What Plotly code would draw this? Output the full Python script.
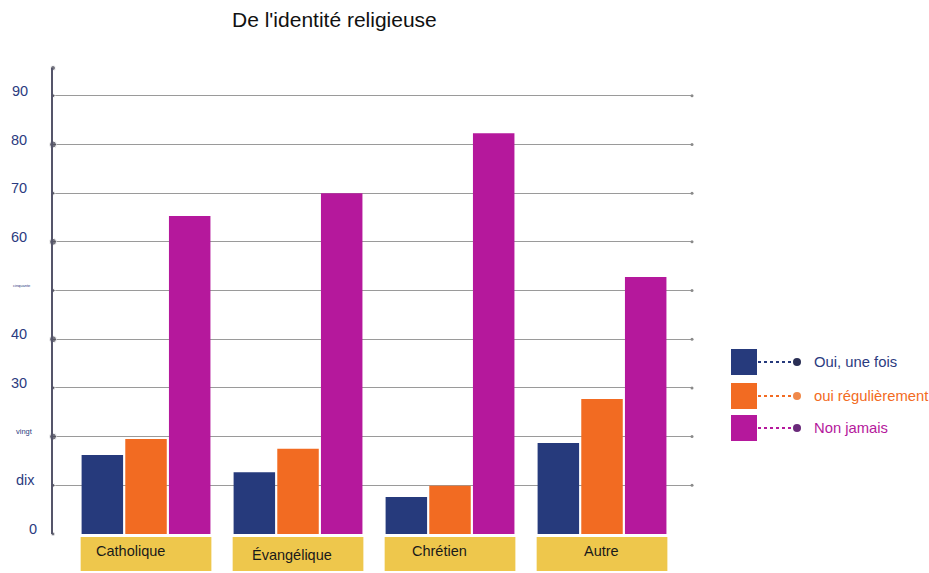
import plotly.graph_objects as go

# ---- data ----
categories = ["Catholique", "Évangélique", "Chrétien", "Autre"]
series_names = ["Oui, une fois", "oui régulièrement", "Non jamais"]
oui_une_fois = [16.2, 12.7, 7.6, 18.7]
oui_regulierement = [19.5, 17.5, 9.9, 27.7]
non_jamais = [65.3, 70.0, 82.3, 52.8]
tick_values = [0, 10, 20, 30, 40, 50, 60, 70, 80, 90]
tick_labels = ["0", "dix", "vingt", "30", "40", "cinquante", "60", "70", "80", "90"]

# ---- styling ----
W, H = 929, 573
L_PX, R_PX, T_PX, B_PX = 53, 692, 68, 534
colors = ["#263a7c", "#f26b22", "#b5189c"]
dot_colors = ["#2a2f55", "#f0894a", "#6a2a7a"]
text_colors = ["#2b3b80", "#f26b22", "#b5189c"]
box_color = "#eec74c"
font_family = "Liberation Sans, Arial, sans-serif"

X_MIN, X_MAX = -0.612, 3.592
Y_MAX = 95.7


def px_x(px):
    return (px - L_PX) / (R_PX - L_PX)


def px_y(py):
    return (B_PX - py) / (B_PX - T_PX)


fig = go.Figure()
xs = list(range(len(categories)))
for name, vals, col in zip(series_names, [oui_une_fois, oui_regulierement, non_jamais], colors):
    fig.add_trace(go.Bar(x=xs, y=vals, name=name, marker=dict(color=col, line=dict(width=0)),
                         showlegend=False, hoverinfo="y"))

# dots along the vertical axis
big = {20, 40, 60, 80}
fig.add_trace(go.Scatter(
    x=[X_MIN] * (len(tick_values) + 1),
    y=tick_values + [Y_MAX],
    mode="markers", cliponaxis=False, showlegend=False, hoverinfo="skip",
    marker=dict(color="#3a3a48", size=[7 if v in big else 4 for v in tick_values] + [5]),
))
# small dotted endings on the right of each gridline
fig.add_trace(go.Scatter(
    x=[X_MAX] * (len(tick_values) - 1), y=tick_values[1:],
    mode="markers", cliponaxis=False, showlegend=False, hoverinfo="skip",
    marker=dict(color="#8a8a8a", size=3),
))

shapes = []
annotations = []

# category label boxes
label_offsets = [-16, -6, -11, -1]
label_y = [551, 555, 551, 551]
for i, cat in enumerate(categories):
    shapes.append(dict(type="rect", xref="x", yref="paper",
                       x0=i - 0.43, x1=i + 0.43, y0=px_y(537), y1=px_y(571),
                       fillcolor=box_color, line=dict(width=0), layer="below"))
    annotations.append(dict(text=cat, xref="x", yref="paper",
                            x=i + label_offsets[i] / 152.0, y=px_y(label_y[i]),
                            showarrow=False, xanchor="center", yanchor="middle",
                            font=dict(size=14.5, color="#1a1a1a", family=font_family)))

# y tick labels
tick_px_x = [33, 25, 24, 19, 19, 22, 19, 19, 19, 20]
for v, lab, tx in zip(tick_values, tick_labels, tick_px_x):
    size = 14.5
    if lab == "cinquante":
        size = 4
    elif lab == "vingt":
        size = 7.5
    annotations.append(dict(text=lab, xref="paper", yref="y", x=px_x(tx), y=v + 1.0,
                            showarrow=False, xanchor="center", yanchor="middle",
                            font=dict(size=size, color="#2b3b80", family=font_family)))

# legend
leg_y = [362, 396, 428]
for name, col, dcol, tcol, cy in zip(series_names, colors, dot_colors, text_colors, leg_y):
    shapes.append(dict(type="rect", xref="paper", yref="paper",
                       x0=px_x(731), x1=px_x(757), y0=px_y(cy + 13), y1=px_y(cy - 13),
                       fillcolor=col, line=dict(width=0)))
    shapes.append(dict(type="line", xref="paper", yref="paper",
                       x0=px_x(758), x1=px_x(794), y0=px_y(cy), y1=px_y(cy),
                       line=dict(color=col, width=2, dash="dot")))
    shapes.append(dict(type="circle", xref="paper", yref="paper",
                       x0=px_x(793), x1=px_x(801), y0=px_y(cy + 4), y1=px_y(cy - 4),
                       fillcolor=dcol, line=dict(width=0)))
    annotations.append(dict(text=name, xref="paper", yref="paper", x=px_x(812), y=px_y(cy),
                            showarrow=False, xanchor="left", yanchor="middle",
                            font=dict(size=14.8, color=tcol, family=font_family)))

# title
annotations.append(dict(text="De l'identité religieuse", xref="paper", yref="paper",
                        x=px_x(334), y=px_y(20), showarrow=False,
                        xanchor="center", yanchor="middle",
                        font=dict(size=21, color="#111111", family=font_family)))

fig.update_layout(
    width=W, height=H,
    margin=dict(l=L_PX, r=W - R_PX, t=T_PX, b=H - B_PX),
    paper_bgcolor="white", plot_bgcolor="white",
    barmode="group", bargap=0.138, bargroupgap=0.05,
    showlegend=False,
    xaxis=dict(range=[X_MIN, X_MAX], showgrid=False, zeroline=False, showticklabels=False,
               showline=False, fixedrange=True),
    yaxis=dict(range=[0, Y_MAX], tickvals=tick_values, showticklabels=False,
               showgrid=True, gridcolor="#9a9a9a", gridwidth=1,
               zeroline=False, showline=True, linecolor="#55556a", linewidth=2,
               fixedrange=True),
    shapes=shapes, annotations=annotations,
    font=dict(family=font_family),
)

fig.write_html("out.html")
